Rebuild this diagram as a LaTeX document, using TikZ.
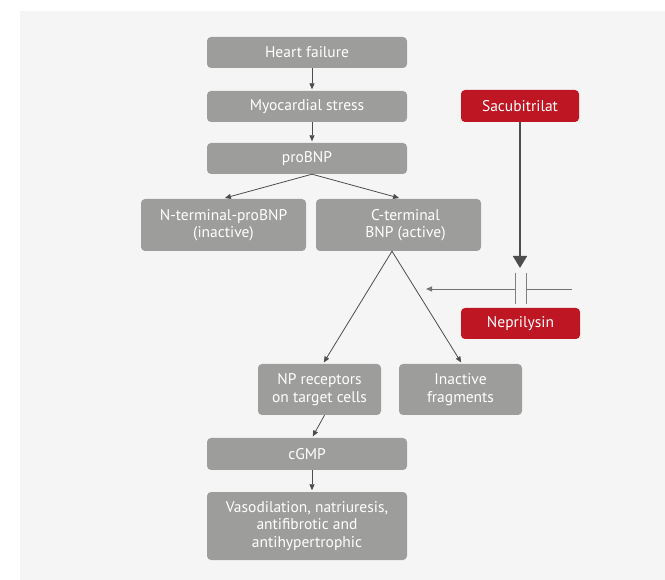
\documentclass[tikz,border=0pt]{standalone}
\usepackage{fontspec}
\setmainfont{PT Sans}
\usetikzlibrary{arrows.meta,positioning,calc}
\definecolor{panelbg}{HTML}{F5F5F5}
\definecolor{boxgray}{HTML}{9D9E9C}
\definecolor{drugred}{HTML}{BE1622}
\definecolor{arrgray}{HTML}{4D4D4D}
\tikzset{
  box/.style={draw=none, fill=boxgray, rounded corners=4pt, text=white, align=center, inner sep=0pt,
    font=\fontsize{15.5}{17.5}\selectfont},
  redbox/.style={box, fill=drugred},
  arr/.style={draw=arrgray, line width=0.8pt, -{Triangle[length=6pt,width=5pt]}, shorten >=1.5pt}
}

\begin{document}
\begin{tikzpicture}[x=1pt, y=-1pt]
\useasboundingbox (0,0) rectangle (665,580);
\fill[panelbg] (20,11) rectangle (665,580);
% main chain
\node[box, minimum width=200pt, minimum height=31pt] (hf) at (307,52.5) {Heart failure};
\node[box, minimum width=200pt, minimum height=31pt] (ms) at (307,106.5) {Myocardial stress};
\node[box, minimum width=200pt, minimum height=31pt] (pro) at (307,158.5) {proBNP};
\node[box, minimum width=165pt, minimum height=52pt] (nterm) at (223.5,225) {N-terminal-proBNP\\(inactive)};
\node[box, minimum width=165pt, minimum height=52pt] (cterm) at (398.5,225) {\hspace*{14pt}C-terminal\\\hspace*{14pt}BNP (active)};
\node[box, minimum width=123pt, minimum height=51pt] (np) at (319.5,389.5) {NP receptors\\on target cells};
\node[box, minimum width=123pt, minimum height=51pt] (frag) at (460.5,389.5) {Inactive\\fragments};
\node[box, minimum width=200pt, minimum height=32pt] (cgmp) at (307,454) {cGMP};
\node[box, minimum width=200pt, minimum height=68pt] (vaso) at (307,526) {Vasodilation, natriuresis,\\antifibrotic and\\antihypertrophic};
% drug side
\node[redbox, minimum width=118pt, minimum height=32pt] (sac) at (520,106) {Sacubitrilat};
\node[redbox, minimum width=119pt, minimum height=31pt] (nep) at (520.5,323.5) {Neprilysin};
\coordinate (block) at (520,268);
\coordinate (cut) at (426,289);
\coordinate (cutend) at (572,289);

\draw[arr] ([xshift=5pt]hf.south) -- ([xshift=5pt]ms.north);
\draw[arr] ([xshift=5pt]ms.south) -- ([xshift=5pt]pro.north);
\draw[arr, shorten >=3pt] ([xshift=5pt]pro.south) -- ([xshift=-1.5pt]nterm.north);
\draw[arr, shorten >=3pt] ([xshift=5pt]pro.south) -- ([xshift=3.5pt]cterm.north);
\draw[arr] ([xshift=-6.5pt]cterm.south) -- ([xshift=3.5pt]np.north);
\draw[arr] ([xshift=-6.5pt]cterm.south) -- ([xshift=1.5pt]frag.north);
\draw[arr] ([xshift=5pt]np.south) -- ([xshift=5pt]cgmp.north);
\draw[arr] ([xshift=5pt]cgmp.south) -- ([xshift=5pt]vaso.north);

\draw[draw=arrgray, line width=1.6pt, -{Triangle[length=12pt,width=14pt]}] (sac.south) -- (block);
\draw[draw=gray, line width=0.8pt] (515,273) -- (515,304) (526,273) -- (526,304);
\draw[draw=gray!90!black, line width=0.8pt] (cutend) -- (526,289);
\draw[draw=gray!90!black, line width=0.8pt, -{Triangle[length=6pt,width=5pt]}] (515,289) -- (cut);
\end{tikzpicture}
\end{document}
